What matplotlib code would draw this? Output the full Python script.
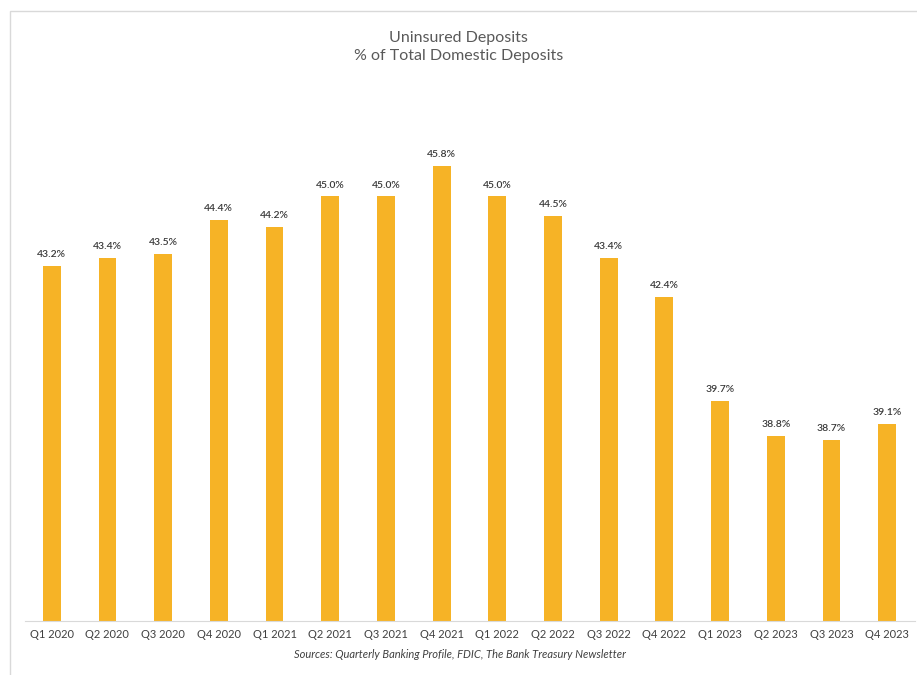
import numpy as np
import matplotlib.pyplot as plt
from matplotlib.patches import Rectangle

quarters = ['Q1 2020', 'Q2 2020', 'Q3 2020', 'Q4 2020',
            'Q1 2021', 'Q2 2021', 'Q3 2021', 'Q4 2021',
            'Q1 2022', 'Q2 2022', 'Q3 2022', 'Q4 2022',
            'Q1 2023', 'Q2 2023', 'Q3 2023', 'Q4 2023']
uninsured_pct = [43.2, 43.4, 43.5, 44.4,
                 44.2, 45.0, 45.0, 45.8,
                 45.0, 44.5, 43.4, 42.4,
                 39.7, 38.8, 38.7, 39.1]

plt.rcParams['font.family'] = ['Lato', 'DejaVu Sans']

fig = plt.figure(figsize=(9.17, 6.75), dpi=100)
# outer frame
fig.patches.append(Rectangle((10/917, -0.1), 1.0, 1.1 - 11/675, transform=fig.transFigure,
                             fill=False, edgecolor='#d9d9d9', linewidth=1.0))

ax = fig.add_axes([25/917, 1-621/675, 890/917, 521/675])
x = np.arange(len(quarters))
ax.bar(x, uninsured_pct, width=0.32, color='#F6B326')
ax.set_ylim(34, 47.5)
ax.set_xlim(-0.48, 15.5)

# value labels
for xi, v in zip(x, uninsured_pct):
    ax.text(xi, v + 0.18, '{:.1f}%'.format(v), ha='center', va='bottom',
            fontsize=7.5, color='#383838', fontweight='semibold')

ax.set_xticks(x)
ax.set_xticklabels(quarters, fontsize=8, color='#404040')
ax.tick_params(axis='x', length=0, pad=6)
ax.set_yticks([])
for s in ['top', 'right', 'left']:
    ax.spines[s].set_visible(False)
ax.spines['bottom'].set_color('#d9d9d9')

fig.text(0.5, 1-38/675, 'Uninsured Deposits', ha='center', va='center',
         fontsize=11.5, color='#595959')
fig.text(0.5, 1-56/675, '% of Total Domestic Deposits', ha='center', va='center',
         fontsize=11.5, color='#595959')
fig.text(460/917, 1-655/675, 'Sources: Quarterly Banking Profile, FDIC, The Bank Treasury Newsletter',
         ha='center', va='center', fontsize=8, style='italic', color='#404040')

plt.savefig('out.png', dpi=100)
